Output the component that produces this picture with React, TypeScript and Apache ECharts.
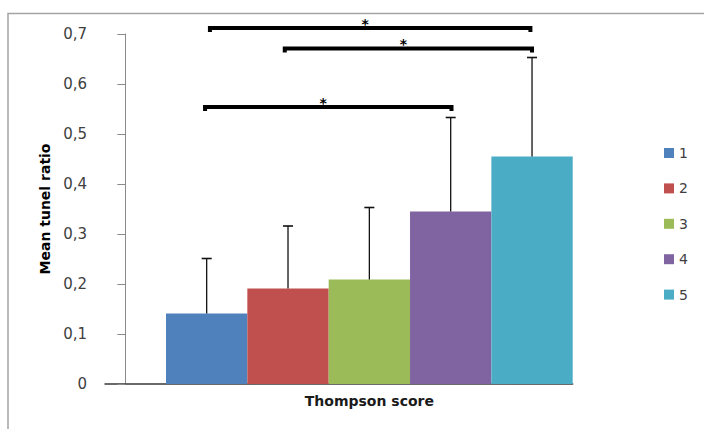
import React, { useEffect, useRef } from "react";
import * as echarts from "echarts";

// Data
const seriesNames = ["1", "2", "3", "4", "5"];
const scores = [1, 2, 3, 4, 5];
const means = [0.141, 0.191, 0.209, 0.345, 0.455];
const sds = [0.11, 0.125, 0.144, 0.188, 0.198];
const colors = ["#4F81BD", "#C0504D", "#9BBB59", "#8064A2", "#4BACC6"];

// significance brackets (from score, to score, height)
const bracketFrom = [1.04, 1.96, 0.98];
const bracketTo = [4.98, 5.0, 4.01];
const bracketY = [0.712, 0.671, 0.554];
const bracketLabel = ["*", "*", "*"];

const yTickMin = 0;
const yTickMax = 0.7;
const yTickStep = 0.1;

const X_MIN = -0.25;
const X_MAX = 5.5;
const GRID_LEFT = 105;
const GRID_TOP = 34;
const GRID_W = 467.7;
const GRID_H = 350;
const FONT = "DejaVu Sans";

export default function App() {
  const ref = useRef<HTMLDivElement>(null);
  useEffect(() => {
    document.body.style.margin = "0";
    if (!ref.current) return;
    const chart = echarts.init(ref.current, null, { renderer: "svg" });
    const barWidth = GRID_W / (X_MAX - X_MIN);

    const barSeries = seriesNames.map((name, i) => ({
      name,
      type: "bar",
      data: [[scores[i], means[i]]],
      barWidth,
      barGap: "-100%",
      itemStyle: { color: colors[i] },
      z: 2,
    }));

    const errorData = scores.map((s, i) => [s, means[i], means[i] + sds[i]]);
    const bracketData = bracketFrom.map((f, i) => [f, bracketTo[i], bracketY[i], bracketLabel[i]]);

    chart.setOption({
      animation: false,
      textStyle: { fontFamily: FONT },
      graphic: [
        {
          type: "rect",
          shape: { x: 8, y: 13.5, width: 800, height: 600 },
          style: { fill: "none", stroke: "#a3a3a3", lineWidth: 1.5 },
          silent: true,
        },
      ],
      grid: { left: GRID_LEFT, top: GRID_TOP, width: GRID_W, height: GRID_H },
      legend: {
        orient: "vertical",
        left: 664,
        top: 146,
        padding: 0,
        itemWidth: 10,
        itemHeight: 10,
        itemGap: 21.4,
        icon: "rect",
        data: seriesNames,
        textStyle: { fontSize: 14, color: "#404040", fontFamily: FONT, lineHeight: 14 },
      },
      xAxis: {
        type: "value",
        min: X_MIN,
        max: X_MAX,
        interval: 0.25,
        splitLine: { show: false },
        axisTick: { show: false },
        axisLine: { show: true, lineStyle: { color: "#3a3a3a", width: 1.5 } },
        axisLabel: {
          margin: 10,
          fontSize: 14,
          fontWeight: "bold",
          color: "#1a1a1a",
          fontFamily: FONT,
          formatter: (v: number) => (Math.abs(v - 3) < 1e-6 ? "Thompson score" : ""),
        },
      },
      yAxis: {
        type: "value",
        min: yTickMin,
        max: yTickMax,
        interval: yTickStep,
        name: "Mean tunel ratio",
        nameLocation: "middle",
        nameGap: 53,
        nameRotate: 90,
        nameTextStyle: { fontSize: 14, fontWeight: "bold", color: "#000", fontFamily: FONT },
        splitLine: { show: false },
        axisLine: { show: true, lineStyle: { color: "#8a8a8a", width: 1 } },
        axisTick: { show: true, length: 8, lineStyle: { color: "#8a8a8a" } },
        axisLabel: {
          margin: 18,
          fontSize: 15,
          color: "#404040",
          fontFamily: FONT,
          formatter: (v: number) => (v === 0 ? "0" : v.toFixed(1).replace(".", ",")),
        },
      },
      series: [
        ...barSeries,
        {
          type: "custom",
          name: "err",
          data: errorData,
          encode: { x: 0, y: [1, 2] },
          z: 5,
          renderItem: (_p: any, api: any) => {
            const x = api.value(0);
            const p0 = api.coord([x, api.value(1)]);
            const p1 = api.coord([x, api.value(2)]);
            return {
              type: "group",
              children: [
                {
                  type: "line",
                  shape: { x1: p0[0], y1: p0[1], x2: p1[0], y2: p1[1] },
                  style: { stroke: "#111", lineWidth: 1.3 },
                },
                {
                  type: "line",
                  shape: { x1: p1[0] - 5, y1: p1[1], x2: p1[0] + 5, y2: p1[1] },
                  style: { stroke: "#111", lineWidth: 1.6 },
                },
              ],
            };
          },
        },
        {
          type: "custom",
          name: "brackets",
          data: bracketData,
          encode: { x: [0, 1], y: 2 },
          clip: false,
          z: 6,
          renderItem: (_p: any, api: any, ) => {
            const a = api.coord([api.value(0), api.value(2)]);
            const b = api.coord([api.value(1), api.value(2)]);
            return {
              type: "group",
              children: [
                {
                  type: "polyline",
                  shape: {
                    points: [
                      [a[0], a[1] + 4],
                      [a[0], a[1]],
                      [b[0], b[1]],
                      [b[0], b[1] + 4],
                    ],
                  },
                  style: { stroke: "#000", lineWidth: 4, fill: "none", lineJoin: "miter", lineCap: "butt" },
                },
                {
                  type: "text",
                  x: (a[0] + b[0]) / 2 - 5,
                  y: a[1] - 4.5,
                  style: {
                    text: String(api.value(3)),
                    fontSize: 14,
                    fontWeight: "bold",
                    fontFamily: FONT,
                    fill: "#000",
                    align: "center",
                    verticalAlign: "middle",
                  },
                },
              ],
            };
          },
        },
      ],
    });
    return () => chart.dispose();
  }, []);
  return <div ref={ref} style={{ width: 704, height: 429 }} />;
}
